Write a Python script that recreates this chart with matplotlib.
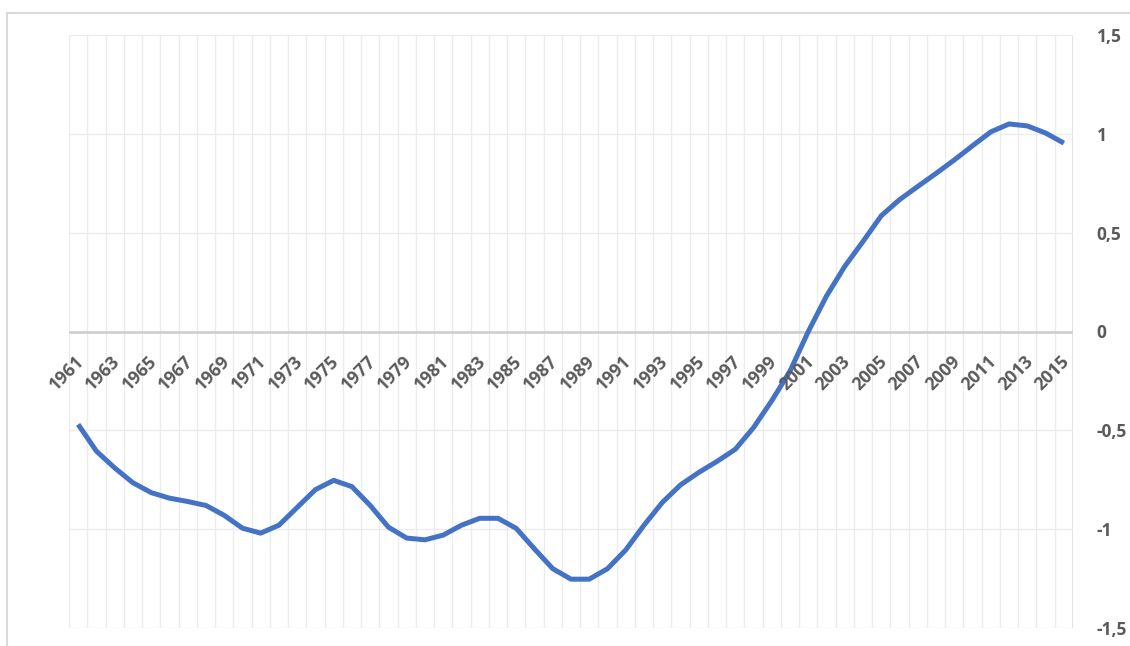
import matplotlib
matplotlib.use("Agg")
import matplotlib.pyplot as plt
from matplotlib.patches import Rectangle
from matplotlib.ticker import FixedLocator

# Annual index values, 1961-2015
years = list(range(1961, 2016))
values = [
    -0.47, -0.605, -0.69, -0.765, -0.815, -0.843, -0.86, -0.88, -0.93, -0.995,
    -1.02, -0.98, -0.89, -0.80, -0.753, -0.785, -0.88, -0.99, -1.045, -1.054,
    -1.03, -0.98, -0.945, -0.945, -0.996, -1.10, -1.20, -1.253, -1.253, -1.20,
    -1.105, -0.98, -0.865, -0.776, -0.713, -0.657, -0.596, -0.486, -0.35, -0.20,
    0.0, 0.18, 0.33, 0.456, 0.586, 0.667, 0.734, 0.80, 0.868, 0.94,
    1.01, 1.05, 1.04, 1.004, 0.953,
]
y_ticks = [-1.5, -1.0, -0.5, 0.0, 0.5, 1.0, 1.5]
y_tick_labels = ["-1,5", "-1", "-0,5", "0", "0,5", "1", "1,5"]
x_label_years = years[::2]

label_color = "#5a5a5a"
font = ["Open Sans", "DejaVu Sans"]

fig = plt.figure(figsize=(11.30, 6.46), dpi=100)
fig.patch.set_facecolor("white")

# light frame around the chart area
fig.patches.append(Rectangle((7 / 1130, -0.05), 1.2, (646 - 13) / 646 + 0.05,
                             transform=fig.transFigure, fill=False,
                             edgecolor="#d9d9d9", linewidth=1.5, zorder=0))

ax = fig.add_axes([69 / 1130, 18 / 646, (1073 - 69) / 1130, (628 - 35) / 646])
ax.set_xlim(years[0] - 0.5, years[-1] + 0.5)
ax.set_ylim(-1.5, 1.5)

# category gridlines between years
n_cat = len(years)
for k in range(n_cat + 1):
    xg = years[0] - 0.5 + k
    edge = k == n_cat
    ax.axvline(xg, color="#dcdcdc" if edge else "#ececec",
               linewidth=1.2 if edge else 1.0, zorder=1)
for yv in y_ticks:
    if yv != 0:
        ax.axhline(yv, color="#ececec", linewidth=1.0, zorder=1)
ax.axhline(0, color="#d0d0d0", linewidth=2.0, zorder=2)

ax.plot(years, values, color="#4472C4", linewidth=3.6, solid_capstyle="butt",
        solid_joinstyle="round", zorder=4)

for s in ax.spines.values():
    s.set_visible(False)

ax.set_xticks([])
ax.yaxis.tick_right()
ax.yaxis.set_major_locator(FixedLocator(y_ticks))
ax.set_yticklabels(y_tick_labels)
ax.tick_params(axis="y", length=0, pad=17, labelcolor=label_color)
for lbl in ax.get_yticklabels():
    lbl.set_family(font)
    lbl.set_fontsize(12.5)
    lbl.set_fontweight("bold")
    lbl.set_horizontalalignment("left")

for yr in x_label_years:
    ax.annotate(str(yr), xy=(yr, 0), xytext=(3, -27), textcoords="offset pixels",
                rotation=45, rotation_mode="anchor", ha="right", va="center",
                fontsize=12.8, fontweight="bold", color=label_color,
                family=font, zorder=5)

fig.savefig("out.png", dpi=100)
